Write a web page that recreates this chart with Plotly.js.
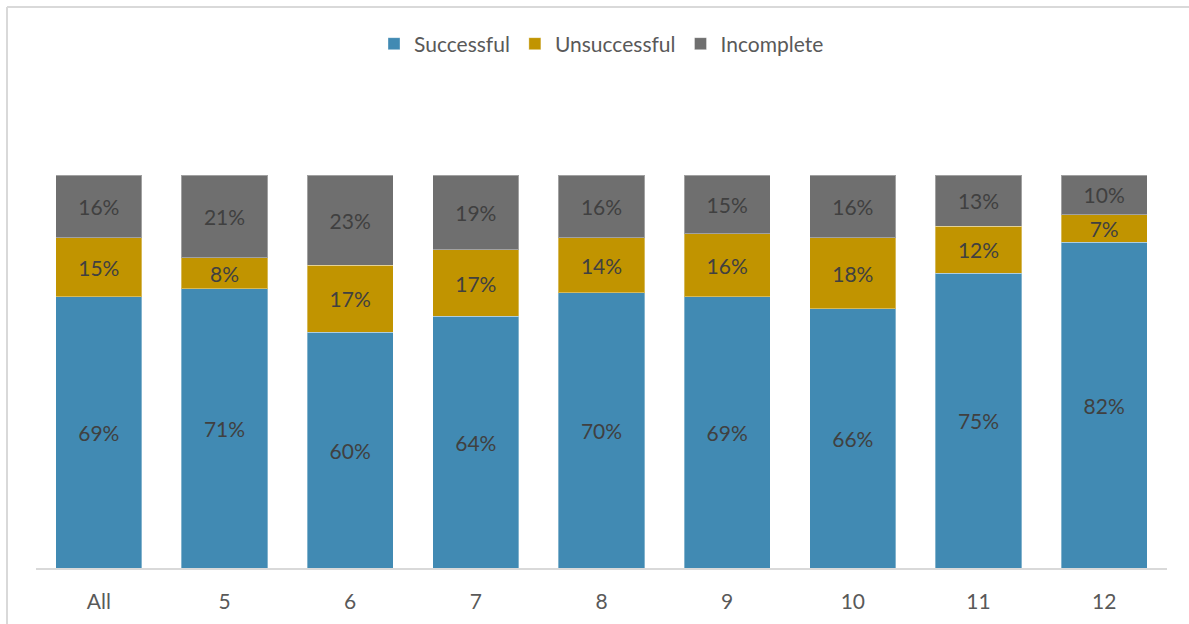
<!DOCTYPE html>
<html>
<head>
<meta charset="utf-8">
<script src="https://cdn.plot.ly/plotly-3.0.1.min.js"></script>
<style>
html,body{margin:0;padding:0;background:#fff;}
#chart{width:1189px;height:624px;}
</style>
</head>
<body>
<div id="chart"></div>
<script>
const categories = ["All", "5", "6", "7", "8", "9", "10", "11", "12"];
const successful = [69, 71, 60, 64, 70, 69, 66, 75, 82];
const unsuccessful = [15, 8, 17, 17, 14, 16, 18, 12, 7];
const incomplete = [16, 21, 23, 19, 16, 15, 16, 13, 10];
const seriesNames = ["Successful", "Unsuccessful", "Incomplete"];
const seriesColors = ["#418AB3", "#C19400", "#6F6F6F"];

const FONT = "Lato, 'Open Sans', sans-serif";
const seriesValues = [successful, unsuccessful, incomplete];

const traces = seriesValues.map((vals, i) => ({
  type: "bar",
  name: seriesNames[i],
  x: categories,
  y: vals,
  text: vals.map(v => v + "%"),
  textposition: "inside",
  insidetextanchor: "middle",
  textangle: 0,
  textfont: {family: FONT, size: 21, color: "#404040"},
  constraintext: "none",
  marker: {color: seriesColors[i], line: {color: "rgba(255,255,255,0.35)", width: 1}},
  hoverinfo: "none"
}));

const px2x = p => (p - 36) / 1131;
const px2y = p => (568 - p) / 393;

const layout = {
  width: 1189,
  height: 624,
  margin: {l: 36, r: 22, t: 175, b: 56},
  paper_bgcolor: "#ffffff",
  plot_bgcolor: "#ffffff",
  barmode: "stack",
  barnorm: "fraction",
  bargap: 0.315,
  font: {family: FONT, color: "#595959"},
  showlegend: true,
  legend: {
    orientation: "h",
    x: 0.5, xanchor: "center",
    y: px2y(44), yanchor: "middle",
    font: {family: FONT, size: 21, color: "#595959"},
    traceorder: "normal",
    itemwidth: 30
  },
  xaxis: {
    type: "category",
    showgrid: false,
    showline: true,
    linecolor: "#D9D9D9",
    linewidth: 2,
    ticks: "",
    ticklabelstandoff: 14,
    tickfont: {family: FONT, size: 21, color: "#595959"},
    fixedrange: true
  },
  yaxis: {
    range: [0, 1],
    showgrid: false,
    showticklabels: false,
    zeroline: false,
    showline: false,
    fixedrange: true
  },
  shapes: [
    {type: "line", xref: "paper", yref: "paper", x0: px2x(7), x1: px2x(7), y0: px2y(7), y1: px2y(630), line: {color: "#D9D9D9", width: 2}},
    {type: "line", xref: "paper", yref: "paper", x0: px2x(7), x1: px2x(1195), y0: px2y(7), y1: px2y(7), line: {color: "#D9D9D9", width: 2}}
  ]
};

Plotly.newPlot("chart", traces, layout, {displayModeBar: false, staticPlot: true});
</script>
</body>
</html>
